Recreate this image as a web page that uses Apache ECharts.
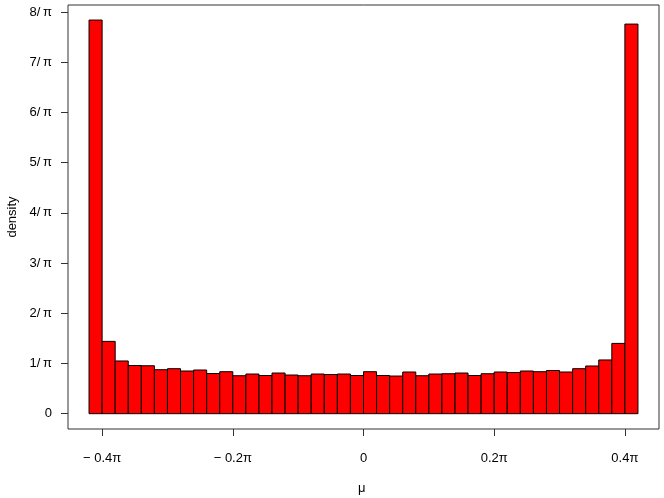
<!DOCTYPE html>
<html>
<head>
<meta charset="utf-8">
<script src="https://cdn.jsdelivr.net/npm/echarts@6/dist/echarts.min.js"></script>
<style>
  html, body { margin: 0; padding: 0; background: #fff; }
  #chart { width: 664px; height: 498px; }
</style>
</head>
<body>
<div id="chart"></div>
<script>
// bin breaks, in units of pi
var breaks = [-0.42, -0.40, -0.38, -0.36, -0.34, -0.32, -0.30, -0.28, -0.26, -0.24, -0.22,
  -0.20, -0.18, -0.16, -0.14, -0.12, -0.10, -0.08, -0.06, -0.04, -0.02, 0.00,
  0.02, 0.04, 0.06, 0.08, 0.10, 0.12, 0.14, 0.16, 0.18, 0.20, 0.22,
  0.24, 0.26, 0.28, 0.30, 0.32, 0.34, 0.36, 0.38, 0.40, 0.42];
// density per bin, in units of 1/pi
var density = [7.84, 1.44, 1.05, 0.96, 0.955, 0.876, 0.896, 0.85, 0.87, 0.80, 0.836,
  0.756, 0.79, 0.76, 0.81, 0.77, 0.756, 0.79, 0.78, 0.79, 0.76,
  0.836, 0.76, 0.75, 0.83, 0.756, 0.79, 0.796, 0.81, 0.76, 0.796,
  0.83, 0.82, 0.85, 0.836, 0.86, 0.83, 0.896, 0.95, 1.07, 1.40, 7.76];
var xTicks = [-0.4, -0.2, 0, 0.2, 0.4];
var xTickLabels = ['\u2212 0.4\u03c0', '\u2212 0.2\u03c0', '0', '0.2\u03c0', '0.4\u03c0'];
var yTicks = [0, 1, 2, 3, 4, 5, 6, 7, 8];
var yTickLabels = ['0', '1/\u2009\u03c0', '2/\u2009\u03c0', '3/\u2009\u03c0', '4/\u2009\u03c0', '5/\u2009\u03c0', '6/\u2009\u03c0', '7/\u2009\u03c0', '8/\u2009\u03c0'];

var bins = [];
for (var i = 0; i < density.length; i++) {
  bins.push([breaks[i], breaks[i + 1], density[i]]);
}

var font = 'Liberation Sans, Arial, sans-serif';
var chart = echarts.init(document.getElementById('chart'));

var option = {
  animation: false,
  grid: {
    left: 68, right: 5, top: 5, bottom: 69,
    show: true, borderColor: '#333', borderWidth: 1, backgroundColor: 'transparent'
  },
  xAxis: {
    type: 'value',
    min: -0.4522, max: 0.4522,
    axisLine: { show: false, onZero: false },
    splitLine: { show: false },
    axisTick: { show: true, length: 7, customValues: xTicks, lineStyle: { color: '#333' } },
    axisLabel: {
      customValues: xTicks, margin: 23, color: '#000', fontSize: 13, fontFamily: font,
      formatter: function (v) { return xTickLabels[xTicks.indexOf(v)]; }
    }
  },
  yAxis: {
    type: 'value',
    min: -0.305, max: 8.14,
    axisLine: { show: false, onZero: false },
    splitLine: { show: false },
    axisTick: { show: true, length: 7, customValues: yTicks, lineStyle: { color: '#333' } },
    axisLabel: {
      customValues: yTicks, margin: 16, color: '#000', fontSize: 13, fontFamily: font,
      formatter: function (v) { return yTickLabels[yTicks.indexOf(v)]; }
    }
  },
  graphic: [
    { type: 'text', left: 358, top: 482, style: { text: '\u03bc', fontSize: 13, fontFamily: font, fill: '#000' } },
    { type: 'text', x: 12, y: 217, rotation: Math.PI / 2, style: { text: 'density', fontSize: 13, fontFamily: font, fill: '#000', align: 'center', verticalAlign: 'middle' } }
  ],
  series: [{
    type: 'custom',
    data: bins,
    encode: { x: [0, 1], y: 2 },
    renderItem: function (params, api) {
      var p0 = api.coord([api.value(0), 0]);
      var p1 = api.coord([api.value(1), api.value(2)]);
      return {
        type: 'rect',
        shape: { x: p0[0], y: p1[1], width: p1[0] - p0[0], height: p0[1] - p1[1] },
        style: { fill: '#ff0000', stroke: '#000', lineWidth: 1 }
      };
    }
  }]
};
chart.setOption(option);
</script>
</body>
</html>
